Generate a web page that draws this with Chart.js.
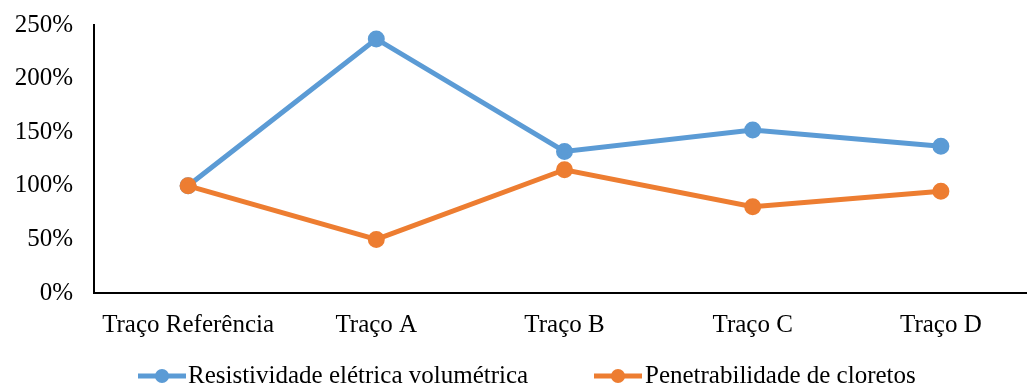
<!DOCTYPE html>
<html>
<head>
<meta charset="utf-8">
<script src="https://cdn.jsdelivr.net/npm/chart.js@4/dist/chart.umd.min.js"></script>
<style>
  html, body { margin: 0; padding: 0; background: #fff; overflow: hidden; }
  #wrap { position: relative; width: 1046px; height: 385px; }
  #chart { position: absolute; left: 0; top: 0; }
  #legend { position: absolute; left: 0; top: 362px; width: 1027px; height: 23px; font-family: "Liberation Serif", "Times New Roman", serif; font-size: 25px; line-height: 25px; color: #000; }
  .item { position: absolute; top: 0; white-space: nowrap; }
  .item svg { position: absolute; top: 6px; }
  .item span { position: absolute; top: 0; }
</style>
</head>
<body>
<div id="wrap">
  <canvas id="chart" width="1046" height="385"></canvas>
  <div id="legend"></div>
</div>
<script>
// Categories (mix designs) and relative performance of each, in % of the reference mix
const categories = ["Traço Referência", "Traço A", "Traço B", "Traço C", "Traço D"];
const resistividade = [100, 237, 132, 152, 137];
const penetrabilidade = [100, 50, 115, 80.5, 95];
const seriesNames = ["Resistividade elétrica volumétrica", "Penetrabilidade de cloretos"];
const seriesColors = ["#5B9BD5", "#ED7D31"];
const yTicks = [0, 50, 100, 150, 200, 250];

const FONT = { family: "'Liberation Serif', 'Times New Roman', serif", size: 25 };

new Chart(document.getElementById("chart"), {
  type: "line",
  data: {
    labels: categories,
    datasets: [
      {
        label: seriesNames[0], data: resistividade,
        borderColor: seriesColors[0], backgroundColor: seriesColors[0],
        borderWidth: 5, pointRadius: 6, pointHoverRadius: 6, tension: 0, order: 2
      },
      {
        label: seriesNames[1], data: penetrabilidade,
        borderColor: seriesColors[1], backgroundColor: seriesColors[1],
        borderWidth: 5, pointRadius: 6, pointHoverRadius: 6, tension: 0, order: 1
      }
    ]
  },
  options: {
    responsive: false,
    animation: false,
    layout: { padding: { top: 25, bottom: 42, left: 0, right: 2 } },
    plugins: { legend: { display: false }, tooltip: { enabled: false } },
    scales: {
      x: {
        offset: true,
        grid: { display: false, drawTicks: false },
        border: { display: true, color: "#000", width: 2 },
        ticks: { color: "#000", font: FONT, padding: 17, maxRotation: 0, autoSkip: false },
        afterFit: s => { s.height = 50; s.paddingLeft = 0; s.paddingRight = 0; }
      },
      y: {
        min: 0, max: 250,
        grid: { display: false, drawTicks: false },
        border: { display: true, color: "#000", width: 2 },
        afterBuildTicks: s => { s.ticks = yTicks.map(v => ({ value: v })); },
        ticks: { color: "#000", font: FONT, padding: 21, callback: v => v + "%" },
        afterFit: s => { s.width = 94; s.paddingTop = 0; s.paddingBottom = 0; }
      }
    }
  }
});

// Legend row beneath the plot: line-with-marker swatch followed by the series name
const legendPos = [{ mark: 138, text: 188 }, { mark: 594, text: 645 }];
const legend = document.getElementById("legend");
seriesNames.forEach((name, i) => {
  const item = document.createElement("div");
  item.className = "item";
  item.style.left = legendPos[i].mark + "px";
  const c = seriesColors[i];
  item.innerHTML =
    '<svg width="48" height="16" viewBox="0 0 48 16">' +
    '<line x1="0" y1="8" x2="48" y2="8" stroke="' + c + '" stroke-width="5"/>' +
    '<circle cx="24" cy="8" r="7" fill="' + c + '"/></svg>' +
    '<span style="left:' + (legendPos[i].text - legendPos[i].mark) + 'px">' + name + '</span>';
  legend.appendChild(item);
});
</script>
</body>
</html>
